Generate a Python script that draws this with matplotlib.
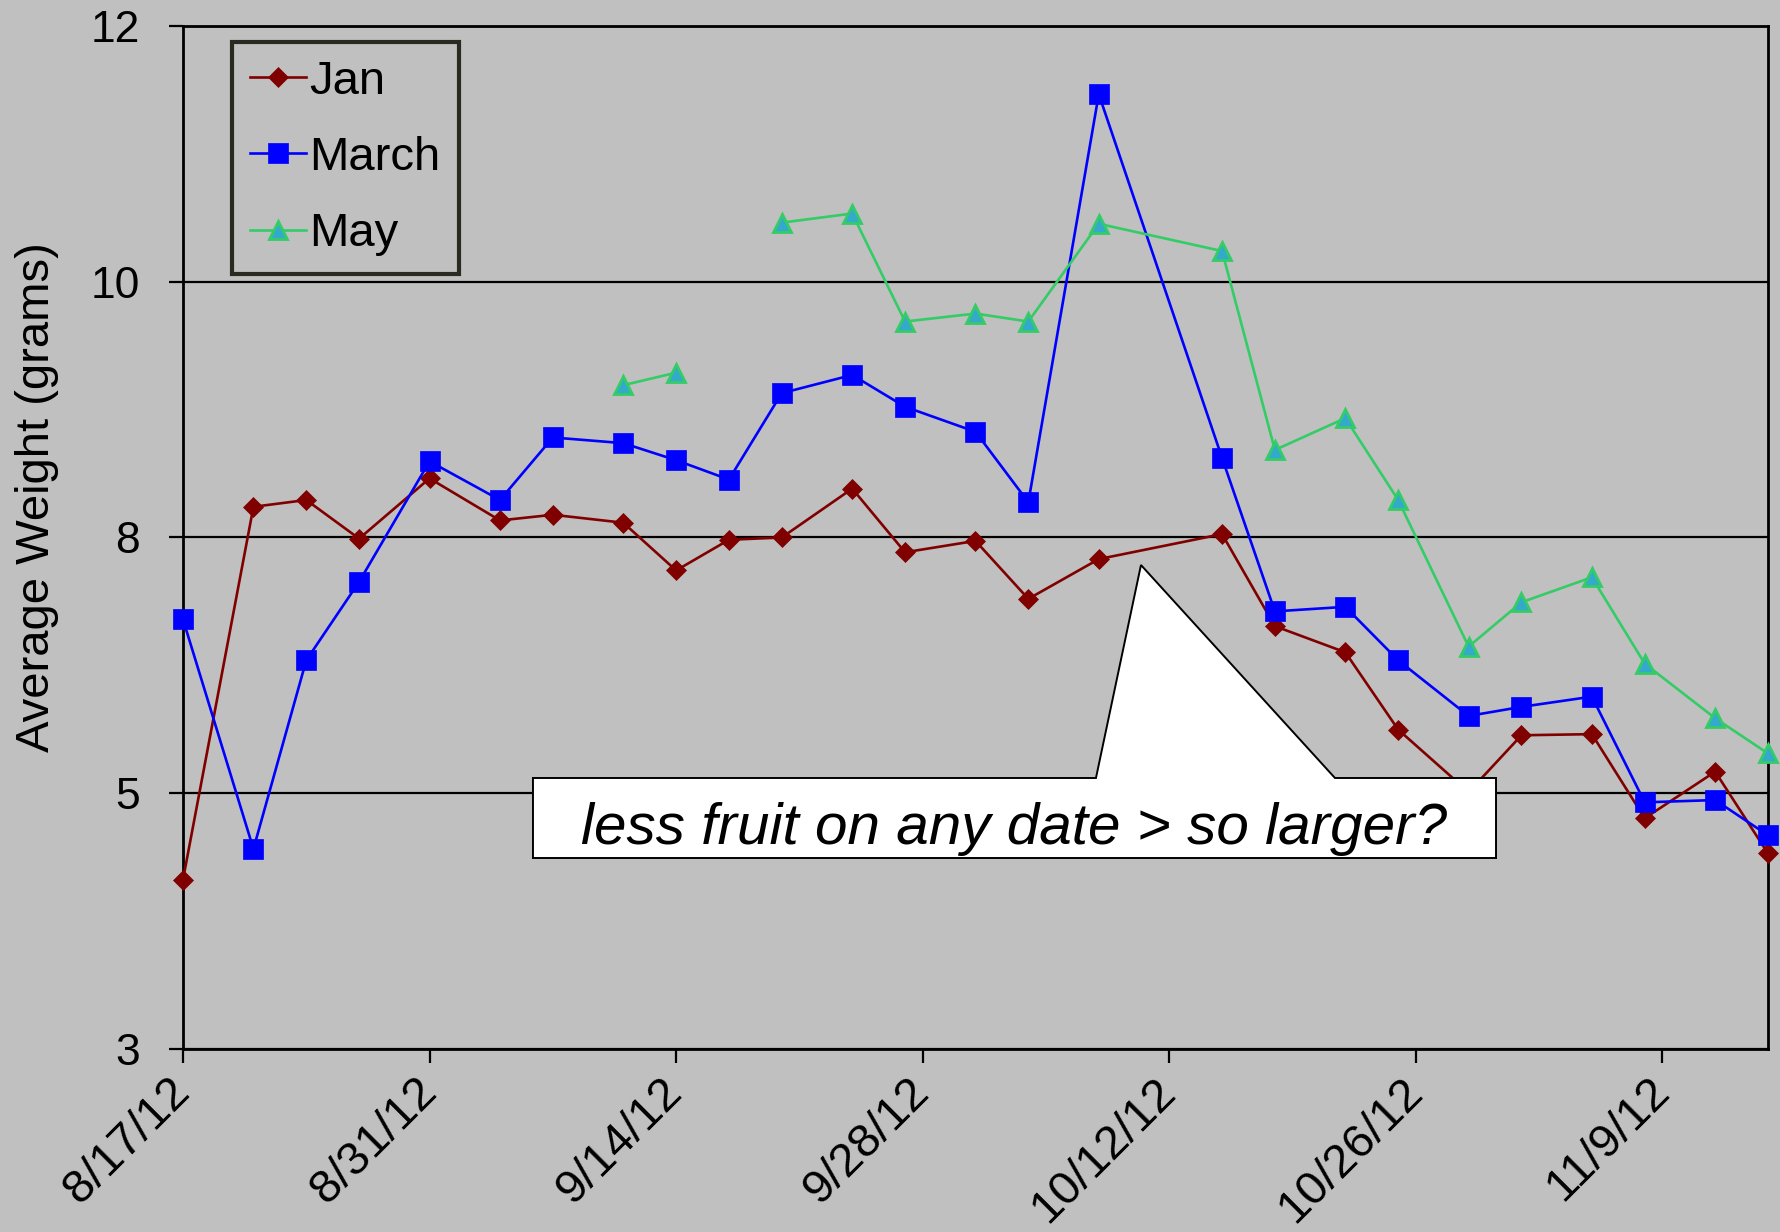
import datetime as dt
import numpy as np
import matplotlib
matplotlib.use("Agg")
import matplotlib.pyplot as plt
from matplotlib.patches import Polygon

# ---------------- data ----------------
dates = ['2012-08-17', '2012-08-21', '2012-08-24', '2012-08-27', '2012-08-31',
         '2012-09-04', '2012-09-07', '2012-09-11', '2012-09-14', '2012-09-17',
         '2012-09-20', '2012-09-24', '2012-09-27', '2012-10-01', '2012-10-04',
         '2012-10-08', '2012-10-15', '2012-10-18', '2012-10-22', '2012-10-25',
         '2012-10-29', '2012-11-01', '2012-11-05', '2012-11-08', '2012-11-12',
         '2012-11-15']

jan = [4.49, 7.77, 7.83, 7.49, 8.02, 7.65, 7.70, 7.63, 7.21, 7.48,
       7.50, 7.93, 7.37, 7.47, 6.96, 7.31, 7.53, 6.72, 6.49, 5.81,
       5.26, 5.76, 5.77, 5.03, 5.44, 4.72]

march = [6.78, 4.76, 6.42, 7.11, 8.17, 7.83, 8.38, 8.33, 8.18, 8.01,
         8.77, 8.93, 8.65, 8.43, 7.81, 11.40, 8.20, 6.85, 6.89, 6.42,
         5.93, 6.01, 6.10, 5.17, 5.19, 4.88]

may = [None, None, None, None, None, None, None, 8.84, 8.95, None,
       10.27, 10.35, 9.40, 9.47, 9.40, 10.26, 10.02, 8.27, 8.55, 7.83,
       6.54, 6.93, 7.15, 6.39, 5.91, 5.60]

series_names = ['Jan', 'March', 'May']

y_ticks = [3, 5.25, 7.5, 9.75, 12]
y_tick_labels = ['3', '5', '8', '10', '12']

x_tick_dates = ['2012-08-17', '2012-08-31', '2012-09-14', '2012-09-28',
                '2012-10-12', '2012-10-26', '2012-11-09']
x_tick_labels = ['8/17/12', '8/31/12', '9/14/12', '9/28/12', '10/12/12',
                 '10/26/12', '11/9/12']
x_limits = ['2012-08-17', '2012-11-15']

y_label = 'Average Weight (grams)'
note = 'less fruit on any date > so larger?'

# ---------------- style ----------------
plt.rcParams['font.family'] = ['Liberation Sans', 'DejaVu Sans']
BG = '#c0c0c0'

def to_dt(s):
    return dt.datetime.strptime(s, '%Y-%m-%d')

x = [to_dt(d) for d in dates]
may_arr = np.array([np.nan if v is None else v for v in may], dtype=float)

fig = plt.figure(figsize=(17.81, 12.32), dpi=100, facecolor=BG)
ax = fig.add_axes([0.10275, 0.14854, 0.88995, 0.83036], facecolor=BG)

ax.plot(x, jan, color='#800000', lw=1.9, marker='D', ms=10.5,
        mfc='#800000', mec='#800000', mew=0.5, clip_on=False, zorder=3,
        label=series_names[0])
ax.plot(x, march, color='#0000ff', lw=1.9, marker='s', ms=14,
        mfc='#0000ff', mec='#0000ff', mew=0.5, clip_on=False, zorder=4,
        label=series_names[1])
ax.plot(x, may_arr, color='#33cc66', lw=1.9, marker='^', ms=13,
        mfc='#33aacc', mec='#33cc66', mew=2, clip_on=False, zorder=5,
        label=series_names[2])

ax.set_xlim(to_dt(x_limits[0]), to_dt(x_limits[1]))
ax.set_ylim(y_ticks[0], y_ticks[-1])

ax.set_yticks(y_ticks)
ax.set_yticklabels(y_tick_labels)
ax.set_xticks([to_dt(d) for d in x_tick_dates])
ax.set_xticklabels(x_tick_labels, rotation=45, ha='right', va='center',
                   rotation_mode='anchor')

ax.yaxis.grid(True, color='black', lw=1.6)
ax.xaxis.grid(False)
ax.set_axisbelow(True)

for sp in ax.spines.values():
    sp.set_linewidth(2)
    sp.set_color('black')

ax.tick_params(axis='y', direction='out', length=10, width=1.6,
               labelsize=32, pad=21, right=False)
ax.tick_params(axis='x', direction='out', length=10, width=1.6,
               labelsize=34, pad=16, top=False)

ax.set_ylabel(y_label, fontsize=34)
ax.yaxis.set_label_coords(-0.078, 0.5396)

leg = ax.legend(loc='upper left', bbox_to_anchor=(0.0309, 0.9844),
                frameon=True, fancybox=False, edgecolor='#2b2a22',
                facecolor=BG, framealpha=1, fontsize=34, handlelength=1.18,
                handletextpad=0.08, labelspacing=0.68, borderpad=0.38,
                borderaxespad=0)
leg.get_frame().set_linewidth(3)
leg.set_zorder(20)

# callout annotation (axes-fraction geometry)
callout = [(0.2208, 0.1867), (0.8284, 0.1867), (0.8284, 0.2649),
           (0.7268, 0.2649), (0.6044, 0.4731), (0.5760, 0.2649),
           (0.2208, 0.2649)]
ax.add_patch(Polygon(callout, closed=True, transform=ax.transAxes,
                     facecolor='white', edgecolor='black', lw=1.4,
                     zorder=10, clip_on=False))
ax.text(0.5243, 0.2155, note, transform=ax.transAxes, ha='center',
        va='center', fontsize=42, style='italic', zorder=11)

fig.savefig('out.png', dpi=100, facecolor=BG)
